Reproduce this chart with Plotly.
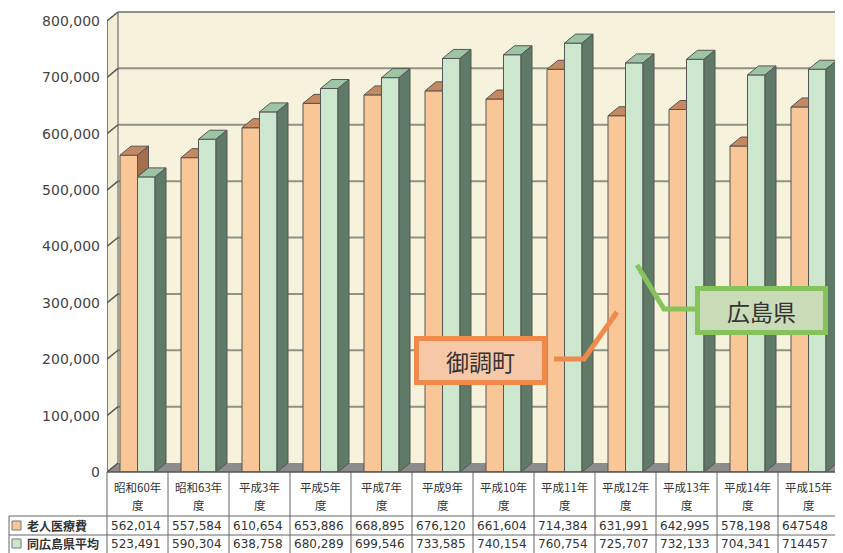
import plotly.graph_objects as go

# ---------------- data ----------------
categories = ["昭和60年度", "昭和63年度", "平成3年度", "平成5年度", "平成7年度", "平成9年度",
              "平成10年度", "平成11年度", "平成12年度", "平成13年度", "平成14年度", "平成15年度"]
rojin = [562014, 557584, 610654, 653886, 668895, 676120, 661604, 714384, 631991, 642995, 578198, 647548]
hiroshima = [523491, 590304, 638758, 680289, 699546, 733585, 740154, 760754, 725707, 732133, 704341, 714457]
series_names = ["老人医療費", "同広島県平均"]
y_ticks = [0, 100000, 200000, 300000, 400000, 500000, 600000, 700000, 800000]
callouts = ["御調町", "広島県"]

# ---------------- geometry / style ----------------
OFF = 8                            # page body margin of the browser
W, H = 843 - OFF, 553 - OFF
AX_X, Y0PX = 107, 472              # front axis x and zero line y (window pixels)
RIGHT_X = 839
ML = AX_X - OFF
MR = 843 - RIGHT_X
MT = 1
MB = H - (Y0PX - OFF)
PW, PH = W - ML - MR, H - MT - MB
PX_PER_UNIT = 451 / 800000         # vertical scale
YTOP = PH / PX_PER_UNIT
COLW = PW / len(categories)        # pixels per category
DX = 11 / COLW                     # 3D depth (x units)
DY = 9 / PX_PER_UNIT               # 3D depth (y units)
BW = 17.5 / COLW                   # bar width (x units)

OR_FRONT, OR_TOP, OR_SIDE = "#F9C697", "#C58962", "#A36F4F"
GR_FRONT, GR_TOP, GR_SIDE = "#CDE7CF", "#9DC5A5", "#5F7B67"
EDGE = "#555555"
WALL, LWALL, FLOOR, GRID = "#F7F2DC", "#F3EED6", "#8C8C8C", "#8F9385"
TXT = "#333333"


def fx(px):
    return (px - AX_X) / PW


def fy(py):
    return (Y0PX - py) / PH


xs = list(range(len(categories)))
fig = go.Figure()

# front faces
fig.add_trace(go.Bar(x=xs, y=rojin, offset=-BW, width=BW, name=series_names[0],
                     marker=dict(color=OR_FRONT, line=dict(color=EDGE, width=1)), hoverinfo="skip"))
fig.add_trace(go.Bar(x=xs, y=hiroshima, offset=0, width=BW, name=series_names[1],
                     marker=dict(color=GR_FRONT, line=dict(color=EDGE, width=1)), hoverinfo="skip"))

# 3D faces (computed from the data)
polys = {"ot": ([], []), "os": ([], []), "gt": ([], []), "gs": ([], [])}


def add_poly(key, pts):
    px, py = polys[key]
    for a, b in pts + [pts[0]]:
        px.append(a)
        py.append(b)
    px.append(None)
    py.append(None)


for i, (o, g) in enumerate(zip(rojin, hiroshima)):
    l1, r1 = i - BW, i
    l2, r2 = i, i + BW
    if g >= o + DY:
        add_poly("ot", [(l1, o), (r1, o), (r1, o + DY), (l1 + DX, o + DY)])
    elif g <= o:
        add_poly("ot", [(l1, o), (r1, o), (r1 + DX, o + DY), (l1 + DX, o + DY)])
    else:
        xg = r1 + (g - o) / DY * DX
        add_poly("ot", [(l1, o), (r1, o), (r1, g), (xg, g), (r1 + DX, o + DY), (l1 + DX, o + DY)])
    if o > g:
        add_poly("os", [(r1, g), (r1 + DX, g + DY), (r1 + DX, o + DY), (r1, o)])
    add_poly("gt", [(l2, g), (r2, g), (r2 + DX, g + DY), (l2 + DX, g + DY)])
    add_poly("gs", [(r2, 0), (r2 + DX, DY), (r2 + DX, g + DY), (r2, g)])

for key, col in [("ot", OR_TOP), ("os", OR_SIDE), ("gt", GR_TOP), ("gs", GR_SIDE)]:
    px, py = polys[key]
    if px:
        fig.add_trace(go.Scatter(x=px, y=py, mode="lines", fill="toself", fillcolor=col,
                                 line=dict(color=EDGE, width=1), hoverinfo="skip", showlegend=False))

shapes = []
xl = -0.5
xr = len(categories) - 0.5 + 1
ymax = y_ticks[-1]
# walls and floor
shapes.append(dict(type="path", xref="x", yref="y", layer="below", line=dict(width=0), fillcolor=LWALL,
                   path=f"M{xl},0 L{xl + DX},{DY} L{xl + DX},{ymax + DY} L{xl},{ymax} Z"))
shapes.append(dict(type="rect", xref="x", yref="y", layer="below", line=dict(width=0), fillcolor=WALL,
                   x0=xl + DX, x1=xr, y0=DY, y1=ymax + DY))
shapes.append(dict(type="path", xref="x", yref="y", layer="below", line=dict(width=0), fillcolor=FLOOR,
                   path=f"M{xl},0 L{xr},0 L{xr},{DY} L{xl + DX},{DY} Z"))
for v in y_ticks[1:-1]:
    shapes.append(dict(type="line", xref="x", yref="y", layer="below", x0=xl + DX, x1=xr,
                       y0=v + DY, y1=v + DY, line=dict(color=GRID, width=2)))
shapes.append(dict(type="line", xref="x", yref="y", layer="below", x0=xl + DX, x1=xr,
                   y0=ymax + DY, y1=ymax + DY, line=dict(color="#6E6E6E", width=1.5)))
shapes.append(dict(type="line", xref="x", yref="y", layer="below", x0=xl + DX, x1=xl + DX,
                   y0=DY, y1=ymax + DY, line=dict(color="#6E6E6E", width=1.2)))
for v in y_ticks:
    shapes.append(dict(type="line", xref="x", yref="y", x0=xl, x1=xl + DX, y0=v, y1=v + DY,
                       line=dict(color=EDGE, width=1.5)))
shapes.append(dict(type="line", xref="x", yref="y", x0=xl, x1=xl, y0=0, y1=ymax,
                   line=dict(color=EDGE, width=1.5)))

# table grid
TBL_TOP, ROW1, ROW2, TBL_BOT = 472, 516, 535, 553
LBL_L = 9
TLINE = dict(color="#666666", width=1)
for k in range(len(categories) + 1):
    xp = AX_X + COLW * k
    shapes.append(dict(type="line", xref="paper", yref="paper", x0=fx(xp), x1=fx(xp),
                       y0=fy(TBL_TOP), y1=fy(TBL_BOT + 3), line=TLINE))
shapes.append(dict(type="line", xref="paper", yref="paper", x0=fx(LBL_L), x1=fx(LBL_L),
                   y0=fy(ROW1), y1=fy(TBL_BOT + 3), line=TLINE))
for yp in (ROW1, ROW2):
    shapes.append(dict(type="line", xref="paper", yref="paper", x0=fx(LBL_L), x1=fx(RIGHT_X),
                       y0=fy(yp), y1=fy(yp), line=TLINE))
shapes.append(dict(type="line", xref="paper", yref="paper", x0=fx(AX_X), x1=fx(RIGHT_X),
                   y0=fy(TBL_TOP), y1=fy(TBL_TOP), line=dict(color=EDGE, width=1.5)))
R1Y, R2Y = (ROW1 + ROW2) / 2, 543.5
for yc, col in [(R1Y, OR_FRONT), (R2Y, GR_FRONT)]:
    shapes.append(dict(type="rect", xref="paper", yref="paper", x0=fx(12), x1=fx(21),
                       y0=fy(yc + 4.5), y1=fy(yc - 4.5), fillcolor=col, line=dict(color="#777777", width=1)))

# callout boxes and connectors
OR_BOX_LINE, OR_BOX_FILL = "#EF8A4A", "#F7C8A7"
GR_BOX_LINE, GR_BOX_FILL = "#86C35A", "#C9DCB7"
shapes.append(dict(type="rect", xref="paper", yref="paper", x0=fx(416.5), x1=fx(544.5),
                   y0=fy(382.5), y1=fy(338.5), fillcolor=OR_BOX_FILL, line=dict(color=OR_BOX_LINE, width=5)))
shapes.append(dict(type="path", xref="paper", yref="paper", line=dict(color=OR_BOX_LINE, width=5),
                   path=f"M{fx(554)},{fy(359)} L{fx(584)},{fy(359)} L{fx(617)},{fy(312)}"))
shapes.append(dict(type="rect", xref="paper", yref="paper", x0=fx(697.5), x1=fx(825.5),
                   y0=fy(332.5), y1=fy(288.5), fillcolor=GR_BOX_FILL, line=dict(color=GR_BOX_LINE, width=5)))
shapes.append(dict(type="path", xref="paper", yref="paper", line=dict(color=GR_BOX_LINE, width=5),
                   path=f"M{fx(637)},{fy(265)} L{fx(664)},{fy(309)} L{fx(695)},{fy(309)}"))

annotations = []
CJK = "Noto Sans CJK JP"


def ann(text, x, y, size, family=CJK, xanchor="center"):
    annotations.append(dict(text=text, x=fx(x), y=fy(y), xref="paper", yref="paper",
                            xanchor=xanchor, yanchor="middle", showarrow=False,
                            font=dict(family=family, size=size, color=TXT)))


ann(callouts[0], 480.5, 360.5, 23)
ann(callouts[1], 761.5, 310.5, 23)

# table text
for i, cat in enumerate(categories):
    xc = AX_X + COLW * (i + 0.5)
    ann(cat[:-1], xc, 487, 11.5)
    ann(cat[-1], xc, 505, 11.5)
rojin_lbl = [f"{v:,}" for v in rojin]
rojin_lbl[-1] = str(rojin[-1])
hiro_lbl = [f"{v:,}" for v in hiroshima]
hiro_lbl[-1] = str(hiroshima[-1])
for row_y, lbls in [(R1Y, rojin_lbl), (R2Y, hiro_lbl)]:
    for i, t in enumerate(lbls):
        ann(t, AX_X + COLW * i + 2, row_y, 12, family="DejaVu Sans", xanchor="left")
for name, row_y in [(series_names[0], R1Y), (series_names[1], R2Y)]:
    ann(f"<b>{name}</b>", 25, row_y, 12, xanchor="left")

fig.update_layout(
    width=W, height=H,
    margin=dict(l=ML, r=MR, t=MT, b=MB, autoexpand=False),
    paper_bgcolor="white", plot_bgcolor="white",
    barmode="overlay", showlegend=False,
    shapes=shapes, annotations=annotations,
    xaxis=dict(range=[-0.5, len(categories) - 0.5], showgrid=False, zeroline=False,
               showticklabels=False, showline=False, ticks="", fixedrange=True),
    yaxis=dict(range=[0, YTOP], tickvals=y_ticks, ticktext=[f"{v:,}" for v in y_ticks],
               showgrid=False, zeroline=False, showline=False, ticks="", ticklabelstandoff=6,
               tickfont=dict(family="DejaVu Sans", size=14, color="#444444"), fixedrange=True),
)

fig.write_html("out.html")
